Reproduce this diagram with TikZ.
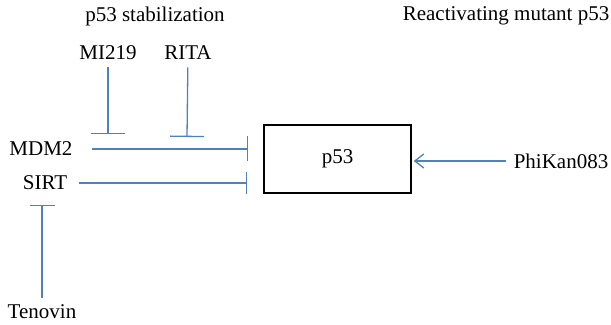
\documentclass[tikz,border=0pt]{standalone}
\usepackage{fontspec}
\setmainfont{Liberation Serif}
\usetikzlibrary{%
    arrows.meta,
    positioning
}
\definecolor{linkblue}{HTML}{4F81BD}
\tikzset{blockarrow/.style = {draw=linkblue, line width=.65pt, -{Bar[width=#1]}},
         blockarrow/.default = 12.5pt,
         pusharrow/.style = {draw=linkblue, line width=.65pt, -{Straight Barb[length=4.5pt,width=7pt]}},
         lbl/.style = {font=\fontsize{10.5pt}{12pt}\selectfont, inner sep=3.5pt},
         target/.style = {draw, line width=.75pt, minimum width=73.5pt, minimum height=34pt,
                          font=\fontsize{10.5pt}{12pt}\selectfont}}

\begin{document}
\begin{tikzpicture}[x=.5pt, y=-.5pt]
    \useasboundingbox (0,0) rectangle (611,325);

    % headings
    \node[lbl] (stab)  at (155,16) {p53 stabilization};
    \node[lbl] (react) at (506,16) {Reactivating mutant p53};

    % drugs and regulators
    \node[lbl] (MI219)   at (108,53)  {MI219};
    \node[lbl] (RITA)    at (188,53)  {RITA};
    \node[lbl] (MDM2)    at (41,149)  {MDM2};
    \node[lbl] (SIRT)    at (45,183)  {SIRT};
    \node[lbl] (Tenovin) at (42,312)  {Tenovin};
    \node[lbl] (PhiKan)  at (561,161) {PhiKan083};

    % central box
    \node[target] (p53) at (337.5,159) {p53};

    % where the inhibitor bars sit
    \coordinate (MIhit) at (108,134);
    \coordinate (RIhit) at (187,137);
    \coordinate (TNhit) at (42,205);

    % edges
    \draw[blockarrow=17pt] (MI219) -- (MIhit);
    \draw[blockarrow=17pt] (RITA)  -- (RIhit);
    \draw[blockarrow] (Tenovin) -- (TNhit);
    \draw[blockarrow, shorten <=6pt, shorten >=7.5pt] (MDM2) -- (p53.west |- MDM2);
    \draw[blockarrow=11pt, shorten <=2pt, shorten >=8pt] (SIRT) -- (p53.west |- SIRT);
    \draw[pusharrow, shorten >=1pt] (PhiKan) -- (p53.east |- PhiKan);
\end{tikzpicture}
\end{document}
